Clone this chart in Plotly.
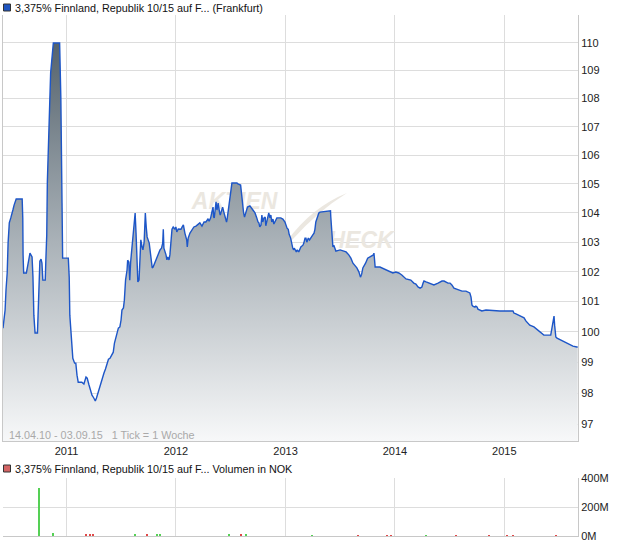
import plotly.graph_objects as go

# ---------------- data ----------------
dates = [
    "2010-06-03", "2010-06-06", "2010-06-10", "2010-06-13", "2010-06-17", "2010-06-20", "2010-06-21",
    "2010-06-24", "2010-06-29", "2010-07-02", "2010-07-06", "2010-07-10", "2010-07-14", "2010-07-17",
    "2010-08-06", "2010-08-08", "2010-08-09", "2010-08-11", "2010-08-20", "2010-08-22", "2010-08-26",
    "2010-09-01", "2010-09-04", "2010-09-08", "2010-09-11", "2010-09-14", "2010-09-18", "2010-09-26",
    "2010-09-28", "2010-10-01", "2010-10-04", "2010-10-08", "2010-10-11", "2010-10-14", "2010-10-22",
    "2010-10-24", "2010-10-27", "2010-10-29", "2010-11-04", "2010-11-09", "2010-11-12", "2010-11-15",
    "2010-11-18", "2010-12-09", "2010-12-13", "2010-12-17", "2010-12-19",
    "2011-01-07", "2011-01-10", "2011-01-12", "2011-01-16", "2011-01-19", "2011-01-22", "2011-01-28",
    "2011-02-01", "2011-02-05", "2011-02-09", "2011-02-21", "2011-02-28", "2011-03-07", "2011-03-11",
    "2011-03-17", "2011-03-22", "2011-03-27", "2011-04-02", "2011-04-07", "2011-04-11", "2011-04-16",
    "2011-04-20", "2011-04-26", "2011-05-01", "2011-05-06", "2011-05-11", "2011-05-16", "2011-05-21",
    "2011-05-26", "2011-06-01", "2011-06-06", "2011-06-10", "2011-06-15", "2011-06-19", "2011-06-23",
    "2011-06-28", "2011-07-02", "2011-07-05", "2011-07-10", "2011-07-13", "2011-07-17", "2011-07-22",
    "2011-07-24", "2011-07-28", "2011-07-31", "2011-08-03", "2011-08-06", "2011-08-10", "2011-08-13",
    "2011-08-18", "2011-08-21", "2011-08-24", "2011-08-27", "2011-08-31", "2011-09-03", "2011-09-06",
    "2011-09-10", "2011-09-13", "2011-09-17", "2011-09-21", "2011-09-24", "2011-09-27", "2011-10-04",
    "2011-10-07", "2011-10-11", "2011-10-14", "2011-10-17", "2011-10-23", "2011-10-30", "2011-11-03",
    "2011-11-09", "2011-11-14", "2011-11-18", "2011-11-20", "2011-11-22", "2011-11-29", "2011-12-02",
    "2011-12-05", "2011-12-09", "2011-12-12", "2011-12-15", "2011-12-19", "2011-12-23", "2011-12-29",
    "2012-01-01", "2012-01-04", "2012-01-09", "2012-01-18", "2012-01-22", "2012-01-26", "2012-01-31",
    "2012-02-06", "2012-02-08", "2012-02-11", "2012-02-17", "2012-02-24", "2012-03-01", "2012-03-08",
    "2012-03-15", "2012-03-21", "2012-03-28", "2012-04-04", "2012-04-10", "2012-04-17", "2012-04-21",
    "2012-04-26", "2012-04-30", "2012-05-04", "2012-05-06", "2012-05-08", "2012-05-11", "2012-05-14",
    "2012-05-17", "2012-05-21", "2012-05-26", "2012-05-28", "2012-05-31", "2012-06-05", "2012-06-09",
    "2012-06-13", "2012-06-18", "2012-06-20", "2012-06-24", "2012-06-27", "2012-06-30", "2012-07-03",
    "2012-07-06", "2012-07-23", "2012-07-26", "2012-08-04", "2012-08-07", "2012-08-11", "2012-08-14",
    "2012-08-17", "2012-08-22", "2012-08-27", "2012-09-04", "2012-09-08", "2012-09-14", "2012-09-21",
    "2012-09-24", "2012-09-27", "2012-10-01", "2012-10-04", "2012-10-07", "2012-10-11", "2012-10-14",
    "2012-10-17", "2012-10-21", "2012-10-25", "2012-10-27", "2012-11-01", "2012-11-06", "2012-11-10",
    "2012-11-13", "2012-11-16", "2012-11-20", "2012-11-23", "2012-11-28", "2012-12-03", "2012-12-16",
    "2012-12-23", "2012-12-30",
    "2013-01-02", "2013-01-06", "2013-01-10", "2013-01-13", "2013-01-18", "2013-01-21", "2013-01-25",
    "2013-01-28", "2013-01-30", "2013-02-06", "2013-02-09", "2013-02-14", "2013-02-18", "2013-02-21",
    "2013-02-28", "2013-03-03", "2013-03-07", "2013-03-10", "2013-03-13", "2013-03-18", "2013-03-22",
    "2013-03-27", "2013-04-02", "2013-04-06", "2013-04-09", "2013-04-12", "2013-04-17", "2013-04-19",
    "2013-04-22", "2013-04-26", "2013-05-31", "2013-06-01", "2013-06-04", "2013-06-06", "2013-06-08",
    "2013-06-11", "2013-06-18", "2013-07-02", "2013-07-22", "2013-07-31", "2013-08-07", "2013-08-14",
    "2013-08-20", "2013-08-27", "2013-09-03", "2013-09-08", "2013-09-12", "2013-09-16", "2013-09-25",
    "2013-10-02", "2013-10-21", "2013-10-23", "2013-10-25", "2013-10-27", "2013-11-12", "2013-12-05",
    "2013-12-15", "2013-12-25",
    "2014-01-04", "2014-01-14", "2014-01-24", "2014-01-31", "2014-02-07", "2014-02-23", "2014-03-05",
    "2014-03-12", "2014-03-19", "2014-03-26", "2014-04-01", "2014-04-05", "2014-04-08", "2014-04-15",
    "2014-04-28", "2014-05-11", "2014-05-25", "2014-06-07", "2014-06-14", "2014-06-27", "2014-07-04",
    "2014-07-10", "2014-07-17", "2014-07-24", "2014-07-30", "2014-08-13", "2014-08-26", "2014-09-02",
    "2014-09-08", "2014-09-12", "2014-09-15", "2014-09-18", "2014-09-25", "2014-09-28", "2014-10-02",
    "2014-10-05", "2014-10-12", "2014-10-18", "2014-11-01", "2014-12-17",
    "2015-01-30", "2015-02-02", "2015-02-09", "2015-02-22", "2015-03-08", "2015-03-14", "2015-03-21",
    "2015-03-27", "2015-04-10", "2015-04-23", "2015-04-30", "2015-05-06", "2015-05-13", "2015-06-05",
    "2015-06-09", "2015-06-12", "2015-06-16", "2015-06-18", "2015-06-20", "2015-06-22", "2015-06-26",
    "2015-07-09", "2015-07-22", "2015-08-05", "2015-08-18", "2015-08-31", "2015-09-03",
]

price = [
    100.12, 100.39, 100.72, 101.39, 101.96, 102.97, 103.35,
    103.66, 103.83, 104.00, 104.10, 104.27, 104.38, 104.48,
    104.48, 103.83, 102.57, 101.96, 101.96, 102.12, 102.29,
    102.63, 102.57, 102.50, 101.82, 100.55, 99.96, 99.96,
    100.55, 101.72, 102.36, 102.43, 102.29, 101.72, 101.72,
    102.39, 103.25, 105.07, 107.49, 108.92, 109.28, 109.75,
    110.00, 110.00, 108.06, 104.34, 102.46,
    102.46, 101.82, 100.55, 99.79, 99.46, 99.13, 98.97,
    98.97, 98.58, 98.35, 98.35, 98.29, 98.52, 98.48,
    98.26, 98.09, 97.93, 97.84, 97.74, 97.84, 98.00,
    98.19, 98.35, 98.52, 98.65, 98.78, 98.97, 99.10,
    99.13, 99.23, 99.33, 99.63, 99.79, 99.96, 100.12,
    100.16, 100.39, 100.72, 100.79, 101.05, 101.72, 102.06,
    102.39, 102.33, 101.72, 102.33, 102.63, 103.08, 103.35,
    104.00, 103.31, 102.29, 101.66, 101.72, 102.50, 103.08,
    102.84, 102.74, 103.00, 104.00, 103.52, 103.18, 102.97,
    102.74, 102.40, 102.13, 102.16, 102.33, 102.46, 102.57,
    102.74, 102.80, 102.97, 103.44, 102.80, 102.57, 102.40,
    102.50, 102.40, 102.57, 102.97, 103.44, 103.52, 103.44,
    103.52, 103.35, 103.45, 103.44, 103.52, 103.59, 103.31,
    103.08, 102.84, 103.14, 103.31, 103.44, 103.52, 103.55,
    103.62, 103.66, 103.55, 103.69, 103.69, 103.79, 103.72,
    103.83, 104.03, 104.20, 103.86, 103.83, 104.10, 104.38,
    104.10, 104.34, 104.00, 103.93, 104.03, 104.20, 104.03,
    103.83, 103.69, 103.79, 104.10, 104.52, 104.72, 104.89,
    105.03, 105.03, 105.00, 104.96, 104.62, 104.20, 104.00,
    103.86, 104.03, 104.20, 104.24, 104.17, 104.10, 104.00,
    103.86, 103.83, 103.69, 103.66, 103.52, 103.59, 103.93,
    103.69, 103.83, 103.86, 103.56, 103.79, 104.00, 103.83,
    103.93, 103.69, 103.79, 103.62, 103.72, 103.83, 103.83,
    103.79, 103.69,
    103.59, 103.48, 103.44, 103.27, 103.14, 102.97, 102.80,
    102.74, 102.80, 102.67, 102.74, 102.67, 102.74, 102.84,
    102.90, 102.97, 103.14, 103.14, 103.00, 103.14, 103.08,
    103.18, 103.25, 103.31, 103.44, 103.69, 103.83, 103.93,
    104.00, 104.03, 104.07, 103.86, 103.44, 103.08, 102.84,
    102.90, 102.70, 102.74, 102.67, 102.57, 102.46, 102.29,
    102.23, 102.13, 101.99, 101.82, 101.92, 102.13, 102.29,
    102.46, 102.57, 102.63, 102.40, 102.16, 102.16, 102.06,
    101.99, 101.96,
    101.99, 101.96, 101.89, 101.82, 101.76, 101.72, 101.62,
    101.59, 101.49, 101.45, 101.49, 101.62, 101.69, 101.66,
    101.62, 101.56, 101.62, 101.69, 101.69, 101.62, 101.62,
    101.56, 101.45, 101.42, 101.39, 101.35, 101.35, 101.32,
    101.29, 101.15, 100.89, 100.85, 100.82, 100.85, 100.82,
    100.75, 100.72, 100.69, 100.72, 100.69,
    100.69, 100.62, 100.59, 100.52, 100.46, 100.36, 100.29,
    100.22, 100.16, 100.06, 99.99, 99.96, 99.89, 99.89,
    100.12, 100.32, 100.52, 100.22, 99.96, 99.83, 99.79,
    99.73, 99.66, 99.60, 99.53, 99.50, 99.50,
]

vol_up_dates = ["2010-10-01", "2010-11-16", "2011-08-19", "2011-10-30", "2011-11-09",
                "2012-06-26", "2012-08-22", "2013-03-30", "2014-04-15"]
vol_up = [330e6, 20e6, 8e6, 8e6, 8e6, 8e6, 8e6, 5e6, 5e6]

vol_down_dates = ["2011-03-07", "2011-03-20", "2011-03-30", "2011-09-27", "2012-08-05",
                  "2013-08-31", "2013-12-06", "2013-12-19", "2014-07-24", "2014-11-11",
                  "2015-01-10", "2015-01-30", "2015-06-22"]
vol_down = [16e6, 14e6, 16e6, 8e6, 8e6, 5e6, 6e6, 6e6, 5e6, 5e6, 5e6, 5e6, 5e6]

year_ticks = ["2011-01-01", "2012-01-01", "2013-01-01", "2014-01-01", "2015-01-01"]
year_labels = ["2011", "2012", "2013", "2014", "2015"]
price_ticks = [97, 98, 99, 100, 101, 102, 103, 104, 105, 106, 107, 108, 109, 110]
vol_ticks = [0, 200e6, 400e6]
vol_labels = ["0M", "200M", "400M"]

title_main = "3,375% Finnland, Republik 10/15 auf F... (Frankfurt)"
title_vol = "3,375% Finnland, Republik 10/15 auf F... Volumen in NOK"
range_note = "14.04.10 - 03.09.15   1 Tick = 1 Woche"

# ---------------- layout helpers ----------------
W, H = 620, 546
FONT = "Liberation Sans, Arial, sans-serif"


def px(x):
    return x / W


def py(y):
    return 1 - y / H


x_range = ["2010-06-03", "2015-09-04"]
grid = "#dddddd"
axis_line = "#c8c8c8"

fig = go.Figure()

# watermark (drawn below the price area)
wm_font = dict(family=FONT, size=23, color="#ebe7e0", weight="bold", style="italic")
fig.add_trace(go.Scatter(x=["2012-07-15"], y=[104.35], mode="text", text=["AKTIEN"],
                         textfont=wm_font, hoverinfo="skip", showlegend=False))
fig.add_trace(go.Scatter(x=["2013-09-10"], y=[103.0], mode="text", text=["HECK"],
                         textfont=wm_font, hoverinfo="skip", showlegend=False))

# price area
fig.add_trace(go.Scatter(
    x=dates, y=price, mode="lines",
    line=dict(color="#1d56c8", width=1.4),
    fill="tozeroy",
    fillgradient=dict(type="vertical",
                      colorscale=[[0, "#f7f8f9"], [0.5, "#aab2b8"], [1, "#55636d"]],
                      start=96.46, stop=110),
    showlegend=False,
))

# volume bars
day_ms = 86400000
fig.add_trace(go.Bar(x=vol_up_dates, y=vol_up, width=[3.4 * day_ms] * len(vol_up),
                     marker=dict(color="#55d055", line=dict(width=0)),
                     xaxis="x2", yaxis="y2", showlegend=False))
fig.add_trace(go.Bar(x=vol_down_dates, y=vol_down, width=[3.4 * day_ms] * len(vol_down),
                     marker=dict(color="#e04848", line=dict(width=0)),
                     xaxis="x2", yaxis="y2", showlegend=False))

tickfont = dict(family=FONT, size=11, color="#222222")
xdom = [px(3), px(578)]

fig.update_layout(
    width=W, height=H,
    margin=dict(l=0, r=0, t=0, b=0, autoexpand=False),
    paper_bgcolor="white", plot_bgcolor="white",
    showlegend=False,
    bargap=0,
    xaxis=dict(domain=xdom, type="date", range=x_range, tickvals=year_ticks, ticktext=year_labels,
               showgrid=True, gridcolor=grid, gridwidth=1, tickfont=tickfont, ticks="",
               showline=True, linecolor=axis_line, linewidth=1, zeroline=False, anchor="y",
               automargin=False),
    yaxis=dict(domain=[py(441), py(15)], type="log", range=[1.98435, 2.04540], side="right",
               tickvals=price_ticks, ticktext=[str(v) for v in price_ticks],
               showgrid=True, gridcolor=grid, gridwidth=1, tickfont=tickfont, ticks="",
               showline=True, linecolor=axis_line, linewidth=1, mirror=True, zeroline=False,
               anchor="x", automargin=False),
    xaxis2=dict(domain=xdom, type="date", range=x_range, tickvals=year_ticks, showticklabels=False,
                showgrid=True, gridcolor=grid, gridwidth=1, ticks="",
                showline=True, linecolor=axis_line, linewidth=1, zeroline=False, anchor="y2",
                automargin=False),
    yaxis2=dict(domain=[py(536), py(478)], range=[0, 400e6], side="right",
                tickvals=vol_ticks, ticktext=vol_labels, showgrid=True, gridcolor=grid,
                tickfont=tickfont, ticks="", showline=True, linecolor=axis_line, linewidth=1,
                zeroline=False, anchor="x2", automargin=False),
)

label_font = dict(family=FONT, size=10.8, color="#111111")

# legend-like headers
fig.add_shape(type="rect", xref="paper", yref="paper", x0=px(3.5), x1=px(10.5), y0=py(11), y1=py(4),
              fillcolor="#1f55c0", line=dict(color="#333333", width=1))
fig.add_annotation(xref="paper", yref="paper", x=px(13), y=py(8), xanchor="left", yanchor="middle",
                   text=title_main, showarrow=False, font=label_font)
fig.add_shape(type="rect", xref="paper", yref="paper", x0=px(3.5), x1=px(10.5), y0=py(472), y1=py(465),
              fillcolor="#d46464", line=dict(color="#333333", width=1))
fig.add_annotation(xref="paper", yref="paper", x=px(13), y=py(468.5), xanchor="left", yanchor="middle",
                   text=title_vol, showarrow=False, font=label_font)

# date range note
fig.add_annotation(xref="paper", yref="paper", x=px(7), y=py(435), xanchor="left", yanchor="middle",
                   text=range_note, showarrow=False, font=dict(family=FONT, size=10.8, color="#a9a9a9"))

# watermark swoosh
pts = [(287, 241), (312, 207), (347, 193), (318, 211), (292, 240)]
path = "M {:.4f},{:.4f} Q {:.4f},{:.4f} {:.4f},{:.4f} Q {:.4f},{:.4f} {:.4f},{:.4f} Z".format(
    px(pts[0][0]), py(pts[0][1]), px(pts[1][0]), py(pts[1][1]), px(pts[2][0]), py(pts[2][1]),
    px(pts[3][0]), py(pts[3][1]), px(pts[4][0]), py(pts[4][1]))
fig.add_shape(type="path", xref="paper", yref="paper", path=path, layer="below",
              fillcolor="#ebe7e0", line=dict(width=0))

fig.write_html(
    "out.html",
    config={"displayModeBar": False},
    post_script="document.body.style.margin='0';document.body.style.padding='0';"
                "document.body.style.overflow='hidden';",
)
